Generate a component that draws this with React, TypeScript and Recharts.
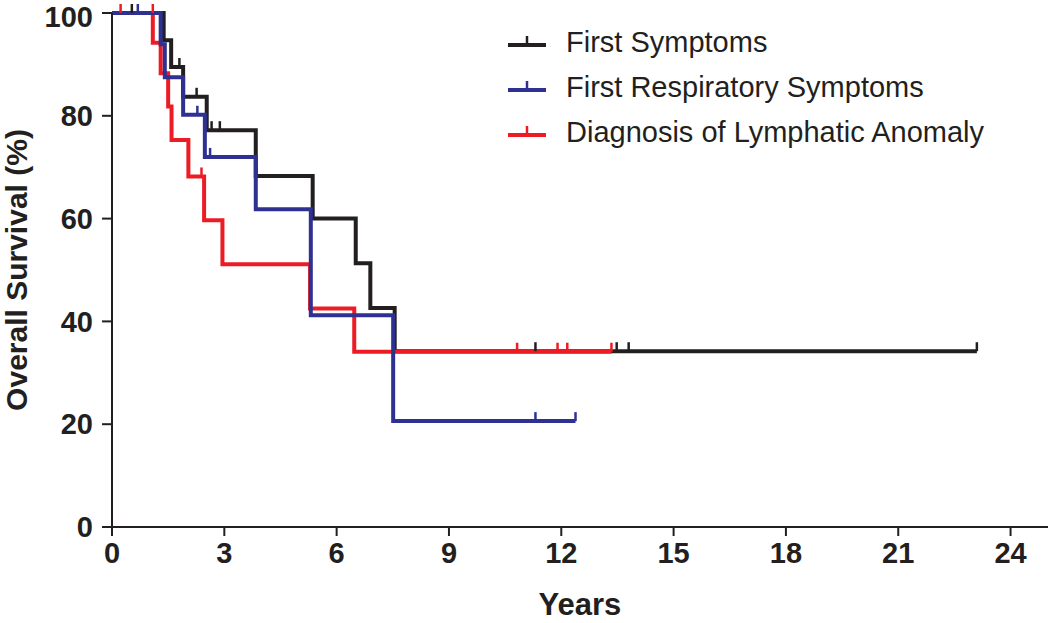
import React from 'react';
import {
  ComposedChart,
  Line,
  Scatter,
  XAxis,
  YAxis,
  Label,
} from 'recharts';

// Kaplan-Meier step points: [years, survival %]
const firstSymptoms = [
  { t: 0, v: 100 },
  { t: 1.38, v: 94.7 },
  { t: 1.58, v: 89.5 },
  { t: 1.9, v: 83.7 },
  { t: 2.53, v: 77.2 },
  { t: 3.84, v: 68.3 },
  { t: 5.36, v: 60.0 },
  { t: 6.51, v: 51.3 },
  { t: 6.9, v: 42.6 },
  { t: 7.55, v: 34.2 },
  { t: 23.1, v: 34.2 },
];

const firstRespiratory = [
  { t: 0, v: 100 },
  { t: 1.3, v: 93.9 },
  { t: 1.41, v: 87.5 },
  { t: 1.9, v: 80.2 },
  { t: 2.48, v: 72.0 },
  { t: 3.84, v: 61.8 },
  { t: 5.31, v: 41.2 },
  { t: 7.51, v: 20.6 },
  { t: 12.38, v: 20.6 },
];

const diagnosis = [
  { t: 0, v: 100 },
  { t: 1.09, v: 94.2 },
  { t: 1.3, v: 88.3 },
  { t: 1.5, v: 81.8 },
  { t: 1.59, v: 75.3 },
  { t: 2.04, v: 68.2 },
  { t: 2.46, v: 59.7 },
  { t: 2.95, v: 51.1 },
  { t: 5.29, v: 42.5 },
  { t: 6.47, v: 34.1 },
  { t: 13.34, v: 34.1 },
];

// censored observations
const firstSymptomsCensored = [
  { t: 0.53, v: 100 },
  { t: 1.8, v: 89.5 },
  { t: 2.26, v: 83.7 },
  { t: 2.66, v: 77.2 },
  { t: 2.88, v: 77.2 },
  { t: 11.31, v: 34.2 },
  { t: 13.48, v: 34.2 },
  { t: 13.8, v: 34.2 },
  { t: 23.1, v: 34.2 },
];

const firstRespiratoryCensored = [
  { t: 0.69, v: 100 },
  { t: 2.28, v: 80.2 },
  { t: 2.62, v: 72.0 },
  { t: 11.31, v: 20.6 },
  { t: 12.38, v: 20.6 },
];

const diagnosisCensored = [
  { t: 0.23, v: 100 },
  { t: 1.09, v: 100 },
  { t: 2.39, v: 68.2 },
  { t: 10.82, v: 34.1 },
  { t: 11.9, v: 34.1 },
  { t: 12.16, v: 34.1 },
  { t: 13.34, v: 34.1 },
];

const xTicks = [0, 3, 6, 9, 12, 15, 18, 21, 24];
const yTicks = [0, 20, 40, 60, 80, 100];

const BLACK = '#231f20';
const BLUE = '#2e3192';
const RED = '#ed1c24';

const legendItems = [
  { name: 'First Symptoms', color: BLACK },
  { name: 'First Respiratory Symptoms', color: BLUE },
  { name: 'Diagnosis of Lymphatic Anomaly', color: RED },
];

const tickFont = {
  fontFamily: '"Liberation Sans", Arial, sans-serif',
  fontSize: 29,
  fontWeight: 700,
  fill: BLACK,
};

const censorShape = (color: string) => (props: any) => {
  const { cx, cy } = props;
  return <line x1={cx} y1={cy} x2={cx} y2={cy - 9} stroke={color} strokeWidth={2.5} />;
};

const ChartLegend = () => (
  <div
    style={{
      position: 'absolute',
      top: 20,
      left: 505,
      fontFamily: '"Liberation Sans", Arial, sans-serif',
    }}
  >
    {legendItems.map((item) => (
      <div key={item.name} style={{ display: 'flex', alignItems: 'center', height: 45 }}>
        <svg width={40} height={20} style={{ marginLeft: 3 }}>
          <line x1={0} y1={12} x2={38} y2={12} stroke={item.color} strokeWidth={4} />
          <line x1={19} y1={12} x2={19} y2={3} stroke={item.color} strokeWidth={2.5} />
        </svg>
        <span style={{ marginLeft: 18, fontSize: 29, color: BLACK, lineHeight: '45px' }}>{item.name}</span>
      </div>
    ))}
  </div>
);

const YTitle = (props: any) => {
  const { viewBox } = props;
  const x = 16;
  const y = viewBox.y + viewBox.height / 2;
  return (
    <text
      x={x}
      y={y}
      transform={`rotate(-90 ${x} ${y})`}
      textAnchor="middle"
      dominantBaseline="central"
      style={{ ...tickFont, fontSize: 30 }}
    >
      Overall Survival (%)
    </text>
  );
};

const App: React.FC = () => {
  return (
    <div style={{ width: 1050, height: 623, position: 'relative', background: '#fff' }}>
      <style>{'body{margin:0;}'}</style>
      <ComposedChart width={1050} height={623} margin={{ top: 13, right: 2, bottom: 0, left: 0 }}>
        <XAxis
          type="number"
          dataKey="t"
          domain={[0, 25]}
          ticks={xTicks}
          allowDuplicatedCategory={false}
          height={96}
          tickSize={9}
          tickMargin={6}
          tick={tickFont}
          axisLine={{ stroke: BLACK, strokeWidth: 2 }}
          tickLine={{ stroke: BLACK, strokeWidth: 2 }}
        >
          <Label
            value="Years"
            position="insideBottom"
            offset={8}
            style={{ ...tickFont, fontSize: 31 }}
          />
        </XAxis>
        <YAxis
          type="number"
          dataKey="v"
          domain={[0, 100]}
          ticks={yTicks}
          width={112}
          tickSize={10}
          tickMargin={9}
          tick={tickFont}
          axisLine={{ stroke: BLACK, strokeWidth: 2 }}
          tickLine={{ stroke: BLACK, strokeWidth: 2 }}
        >
          <Label content={<YTitle />} />
        </YAxis>
        <Line
          data={firstSymptoms}
          dataKey="v"
          type="stepAfter"
          stroke={BLACK}
          strokeWidth={4}
          dot={false}
          isAnimationActive={false}
          name="First Symptoms"
        />
        <Line
          data={diagnosis}
          dataKey="v"
          type="stepAfter"
          stroke={RED}
          strokeWidth={4}
          dot={false}
          isAnimationActive={false}
          name="Diagnosis of Lymphatic Anomaly"
        />
        <Line
          data={firstRespiratory}
          dataKey="v"
          type="stepAfter"
          stroke={BLUE}
          strokeWidth={4}
          dot={false}
          isAnimationActive={false}
          name="First Respiratory Symptoms"
        />
        <Scatter data={firstSymptomsCensored} dataKey="v" shape={censorShape(BLACK)} isAnimationActive={false} />
        <Scatter data={diagnosisCensored} dataKey="v" shape={censorShape(RED)} isAnimationActive={false} />
        <Scatter data={firstRespiratoryCensored} dataKey="v" shape={censorShape(BLUE)} isAnimationActive={false} />
      </ComposedChart>
      <ChartLegend />
    </div>
  );
};

export default App;
